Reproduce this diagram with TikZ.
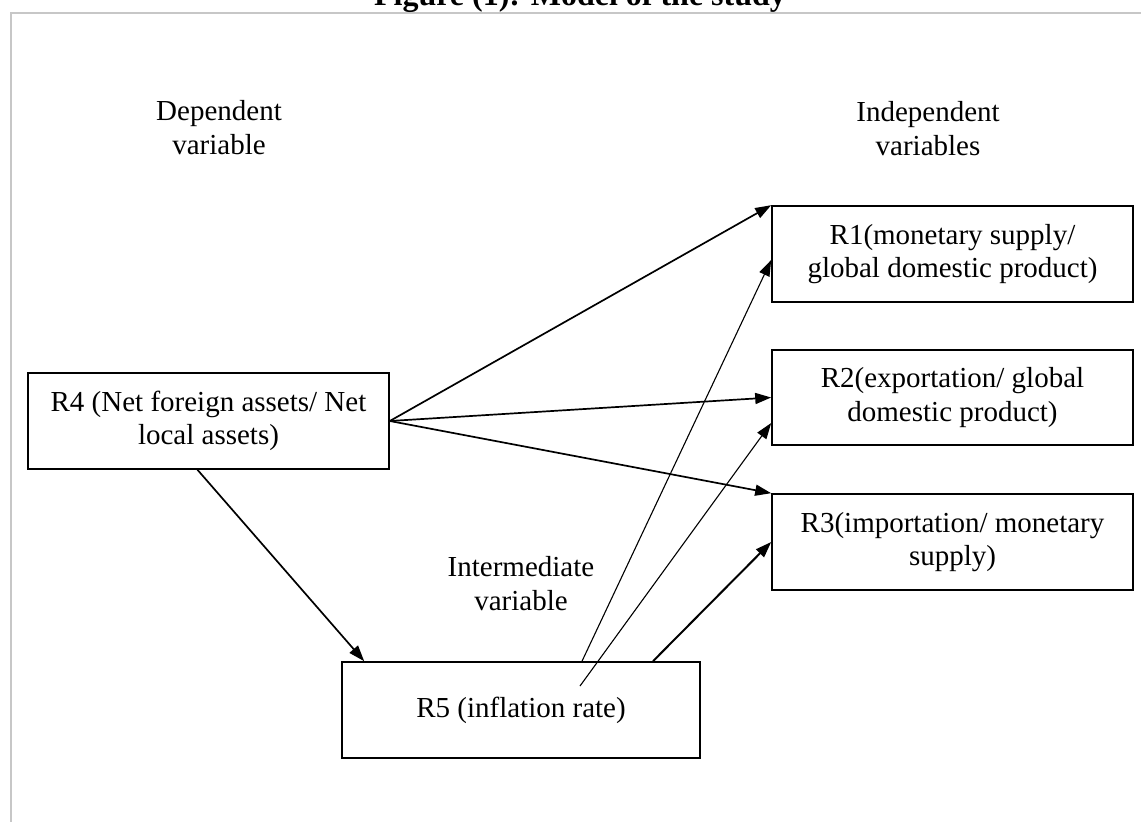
\documentclass[tikz,border=0pt]{standalone}
\usepackage{fontspec}
\setmainfont{Liberation Serif}
\usetikzlibrary{arrows.meta,calc}
\begin{document}
\begin{tikzpicture}[x=1pt,y=-1pt,
  varbox/.style={draw, line width=1.6pt, minimum width=361pt, minimum height=96pt,
    inner sep=0pt, align=center, font=\fontsize{29}{33.5}\selectfont},
  lbl/.style={align=center, inner sep=0pt, font=\fontsize{29}{34}\selectfont},
  link/.style={line width=1.7pt, -{Triangle[length=16pt,width=11pt]}},
  thinlink/.style={line width=1.1pt, -{Triangle[length=16pt,width=11pt]}},
  frame/.style={draw=black!22, line width=2pt},
]
\path[use as bounding box, clip] (0,0) rectangle (1141,822);

% page frame and heading
\draw[frame] (10.5,830) -- (10.5,12.5) -- (1150,12.5);
\node[font=\bfseries\fontsize{32}{36}\selectfont, anchor=base, inner sep=0pt] (title) at (580,5)
  {Figure (1): Model of the study};

% group headings
\node[lbl] (deplbl) at (219,128) {Dependent\\variable};
\node[lbl] (indlbl) at (928,129) {Independent\\variables};
\node[lbl] (midlbl) at (521,584) {Intermediate\\variable};

% variables
\node[varbox] (R1) at (952.5,254) {R1(monetary supply/\\global domestic product)};
\node[varbox, minimum height=95pt] (R2) at (952.5,397.5) {R2(exportation/ global\\domestic product)};
\node[varbox] (R3) at (952.5,542) {R3(importation/ monetary\\supply)};
\node[varbox] (R4) at (208.5,421) {R4 (Net foreign assets/ Net\\local assets)};
\node[varbox, minimum width=358pt] (R5) at (521,710) {R5 (inflation rate)};

% relations
\draw[link] (R4.east) -- (R1.north west);
\draw[link] (R4.east) -- (R2.west);
\draw[link] (R4.east) -- (R3.north west);
\draw[link] ($(R4.south)+(-11,0)$) -- ($(R5.north west)+(23,0)$);
\draw[thinlink] ($(R5.north)+(61,0)$) -- ($(R1.west)+(0,6)$);
\draw[thinlink] ($(R5.center)+(59,-24)$) -- ($(R2.west)+(0,25.5)$);
\draw[link, line width=2pt] ($(R5.north)+(132,0)$) -- (R3.west);
\end{tikzpicture}
\end{document}
